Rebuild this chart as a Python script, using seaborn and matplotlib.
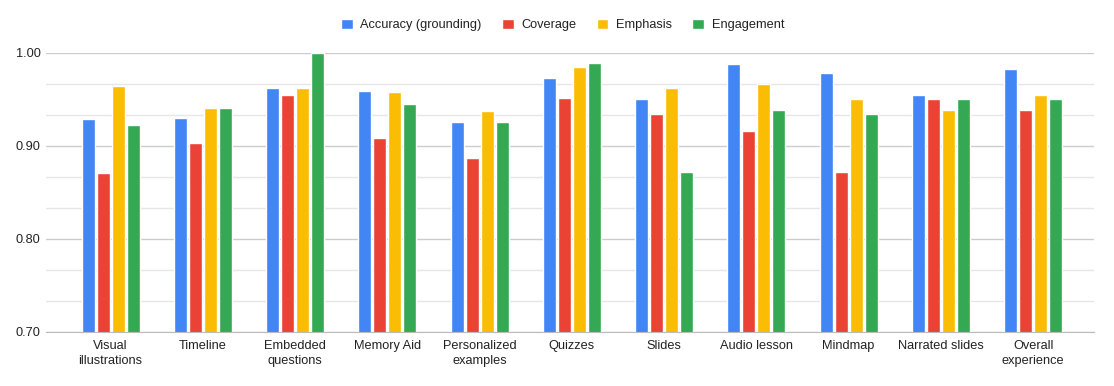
import numpy as np
import pandas as pd
import seaborn as sns
import matplotlib.pyplot as plt
from matplotlib.ticker import MultipleLocator

# categories and series
categories = ['Visual\nillustrations', 'Timeline', 'Embedded\nquestions', 'Memory Aid',
              'Personalized\nexamples', 'Quizzes', 'Slides', 'Audio lesson', 'Mindmap',
              'Narrated slides', 'Overall\nexperience']
accuracy = [0.929, 0.930, 0.962, 0.959, 0.926, 0.973, 0.950, 0.988, 0.978, 0.955, 0.983]
coverage = [0.871, 0.903, 0.955, 0.908, 0.887, 0.952, 0.934, 0.916, 0.872, 0.950, 0.939]
emphasis = [0.964, 0.941, 0.962, 0.958, 0.938, 0.985, 0.962, 0.967, 0.950, 0.939, 0.955]
engagement = [0.923, 0.941, 1.000, 0.945, 0.926, 0.989, 0.872, 0.939, 0.934, 0.950, 0.950]
series_names = ['Accuracy (grounding)', 'Coverage', 'Emphasis', 'Engagement']
colors = ['#4285F4', '#EA4335', '#FBBC04', '#34A853']

# long format table for seaborn
rows = []
for name, vals in zip(series_names, [accuracy, coverage, emphasis, engagement]):
    for cat, v in zip(categories, vals):
        rows.append({'category': cat, 'metric': name, 'score': v})
df = pd.DataFrame(rows)

sns.set_style('white')
plt.rcParams['font.family'] = ['Liberation Sans', 'DejaVu Sans']

fig = plt.figure(figsize=(11.14, 3.86), dpi=100)
ax = fig.add_axes([0.0413, 0.140, 0.9407, 0.723])

sns.barplot(data=df, x='category', y='score', hue='metric', hue_order=series_names,
            palette=colors, saturation=1, width=0.65, gap=0.13, ax=ax, legend=True)

ax.set_ylim(0.70, 1.00)
ax.set_xlim(-0.70, 10.66)
ax.yaxis.set_major_locator(MultipleLocator(0.1))
ax.yaxis.set_minor_locator(MultipleLocator(0.1 / 3))
ax.yaxis.set_major_formatter(plt.FuncFormatter(lambda v, p: f'{v:.2f}'))
ax.grid(axis='y', which='major', color='#cccccc', linewidth=1)
ax.grid(axis='y', which='minor', color='#e6e6e6', linewidth=1)
ax.set_axisbelow(True)

for s in ['top', 'right', 'left']:
    ax.spines[s].set_visible(False)
ax.spines['bottom'].set_color('#bbbbbb')
ax.tick_params(axis='both', which='both', length=0, labelsize=9.2, colors='#222222')
ax.tick_params(axis='x', pad=6)
ax.tick_params(axis='y', pad=4)
for lab in ax.get_xticklabels():
    lab.set_linespacing(1.25)
ax.set_xlabel('')
ax.set_ylabel('')

ax.legend(loc='center', bbox_to_anchor=(0.493, 1.10), ncol=4, frameon=False,
          fontsize=9.2, handlelength=0.9, handleheight=0.9, handletextpad=0.6,
          columnspacing=1.6)
for t in ax.get_legend().get_texts():
    t.set_color('#222222')

fig.savefig('out.png', dpi=100)
